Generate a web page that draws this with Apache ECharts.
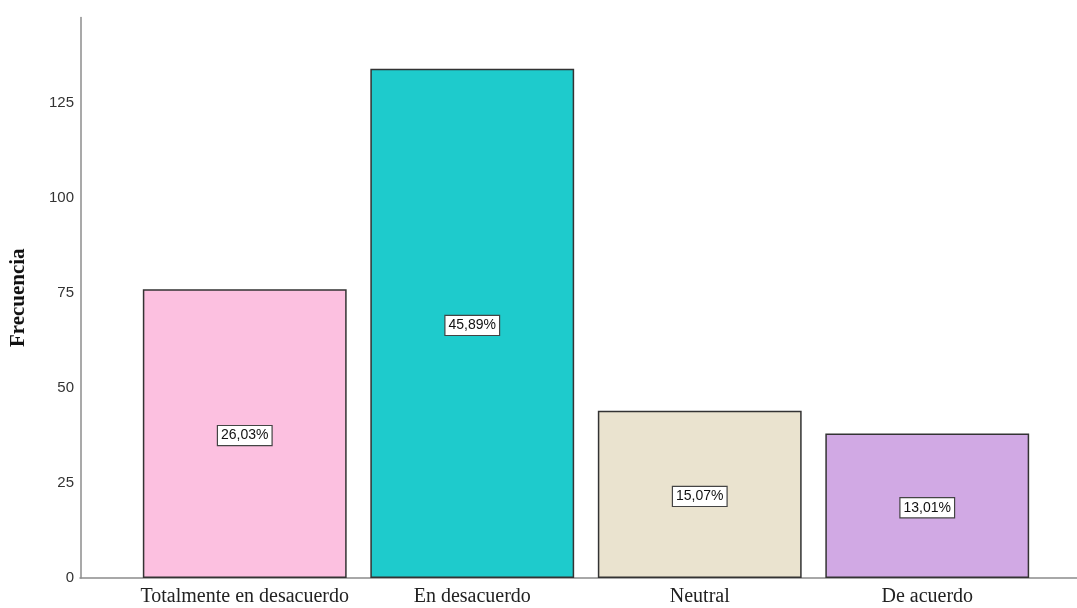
<!DOCTYPE html>
<html>
<head>
<meta charset="utf-8">
<style>
  html, body { margin: 0; padding: 0; background: #fff; }
  #chart { width: 1077px; height: 608px; }
</style>
<script src="https://cdn.jsdelivr.net/npm/echarts@6/dist/echarts.min.js"></script>
</head>
<body>
<div id="chart"></div>
<script>
// Response categories and their counts
const categories = ['Totalmente en desacuerdo', 'En desacuerdo', 'Neutral', 'De acuerdo'];
const counts = [76, 134, 44, 38];
const percentLabels = ['26,03%', '45,89%', '15,07%', '13,01%'];
const barColors = ['#fcc0e0', '#1ecbcc', '#eae3cf', '#d1a9e4'];
const yTicks = [0, 25, 50, 75, 100, 125];

const chart = echarts.init(document.getElementById('chart'));

chart.setOption({
  animation: false,
  backgroundColor: '#ffffff',
  grid: [
    { left: 130, right: 36, top: 17.5, bottom: 30 },
    { left: 80, right: 0, top: 17.5, bottom: 30 }
  ],
  xAxis: [
    {
      type: 'category',
      gridIndex: 0,
      data: categories,
      axisLine: { show: false },
      axisTick: { show: false },
      axisLabel: {
        interval: 0,
        color: '#222',
        fontFamily: '"Liberation Serif", "Times New Roman", serif',
        fontSize: 20,
        margin: 9
      }
    },
    {
      type: 'value',
      gridIndex: 1,
      min: 0,
      max: 1,
      axisLine: { show: true, lineStyle: { color: '#8c8c8c', width: 1.5 } },
      axisTick: { show: false },
      axisLabel: { show: false },
      splitLine: { show: false }
    }
  ],
  yAxis: [
    {
      type: 'value',
      gridIndex: 0,
      min: 0,
      max: 147.5,
      interval: 25,
      offset: 50,
      name: 'Frecuencia',
      nameLocation: 'middle',
      nameGap: 52,
      nameRotate: 90,
      nameTextStyle: {
        fontFamily: '"Liberation Serif", "Times New Roman", serif',
        fontWeight: 'bold',
        fontSize: 21,
        color: '#111'
      },
      axisLine: { show: true, lineStyle: { color: '#8c8c8c', width: 1.5 } },
      axisTick: { show: false },
      splitLine: { show: false },
      axisLabel: {
        showMaxLabel: false,
        color: '#333',
        fontFamily: '"Liberation Sans", Arial, sans-serif',
        fontSize: 15,
        margin: 7,
        padding: [3, 0, 0, 0],
        formatter: v => (yTicks.includes(v) ? String(v) : '')
      }
    },
    {
      type: 'value',
      gridIndex: 1,
      show: false
    }
  ],
  series: [{
    type: 'bar',
    xAxisIndex: 0,
    yAxisIndex: 0,
    data: counts.map((v, i) => ({
      value: v,
      itemStyle: { color: barColors[i] }
    })),
    barWidth: '89.6%',
    itemStyle: { borderColor: '#333333', borderWidth: 1.5 },
    label: {
      show: true,
      position: 'inside',
      offset: [0, 2],
      formatter: p => percentLabels[p.dataIndex],
      color: '#111',
      fontFamily: '"Liberation Sans", Arial, sans-serif',
      fontSize: 14,
      backgroundColor: '#ffffff',
      borderColor: '#444',
      borderWidth: 1.2,
      padding: [3, 3, 2, 3]
    }
  }]
});
</script>
</body>
</html>
